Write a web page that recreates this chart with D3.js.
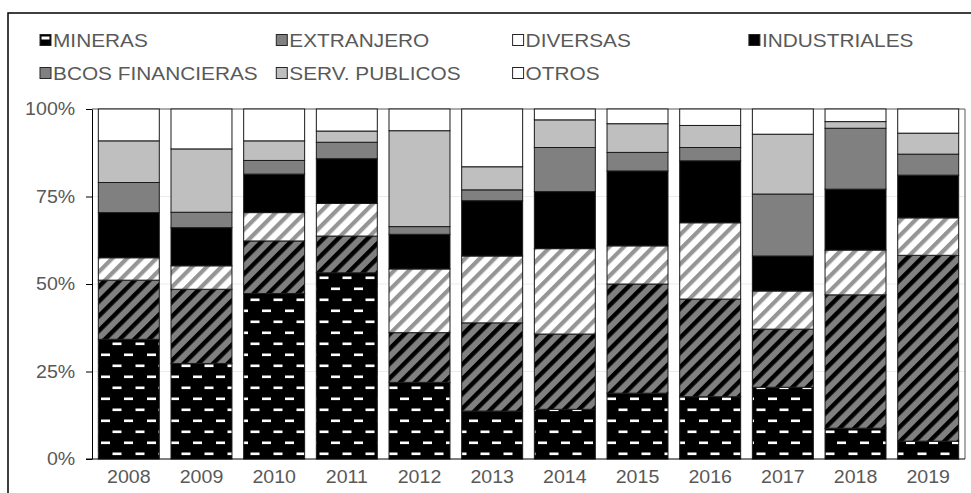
<!DOCTYPE html>
<html>
  <head>
    <meta charset="utf-8">
    <title>Composicion por sector</title>
    <script src="https://cdn.jsdelivr.net/npm/d3@7"></script>
    <style>
     body { margin: 0; background: #fff; }
     text { font-family: "Liberation Sans", Arial, sans-serif; fill: #595959; }
    </style>
  </head>
  <body>
    <svg id="chart"></svg>
    <script>
     // values, % of each year
     var years = ["2008","2009","2010","2011","2012","2013","2014","2015","2016","2017","2018","2019"];
     var mineras      = [34.2, 27.3, 47.3, 53.2, 21.9, 13.7, 14.2, 18.8, 17.8, 20.5,  8.8,  5.1];
     var extranjero   = [16.9, 21.2, 15.0, 10.5, 14.2, 25.2, 21.5, 31.2, 27.9, 16.6, 38.1, 53.1];
     var diversas     = [ 6.4,  6.7,  8.1,  9.3, 18.2, 19.1, 24.4, 10.9, 21.8, 10.9, 12.8, 10.7];
     var industriales = [12.9, 10.9, 11.0, 12.8,  9.9, 15.8, 16.3, 21.4, 17.7, 10.0, 17.4, 12.2];
     var bcos         = [ 8.6,  4.4,  3.9,  4.7,  2.2,  3.1, 12.6,  5.3,  3.8, 17.7, 17.4,  6.0];
     var serv         = [11.9, 18.1,  5.6,  3.2, 27.4,  6.6,  7.9,  8.2,  6.3, 17.1,  1.9,  6.0];
     var otros        = [ 9.1, 11.4,  9.1,  6.3,  6.2, 16.5,  3.1,  4.2,  4.7,  7.2,  3.6,  6.9];
     var seriesNames = ["MINERAS","EXTRANJERO","DIVERSAS","INDUSTRIALES","BCOS FINANCIERAS","SERV. PUBLICOS","OTROS"];
     var yTicks = [0, 0.25, 0.5, 0.75, 1];

     var seriesValues = [mineras, extranjero, diversas, industriales, bcos, serv, otros];
     var fills = ["url(#pMin)", "url(#pExt)", "url(#pDiv)", "#000000", "#808080", "#bfbfbf", "#ffffff"];
     var legendFills = ["url(#lMin)", "#808080", "#ffffff", "#000000", "#808080", "#bfbfbf", "#ffffff"];
     var stretch = "scale(1.12,1)";   // the picture is a little wider than tall

     var W = 971, H = 493;
     var plot = {left: 92, right: 965, top: 109, bottom: 459};

     var rows = years.map(function(y, i) {
	 var r = {year: y};
	 seriesNames.forEach(function(n, k) { r[n] = seriesValues[k][i]; });
	 return r;
     });
     var stacked = d3.stack().keys(seriesNames).offset(d3.stackOffsetExpand)(rows);

     var xScale = d3.scaleBand()
		    .domain(years)
		    .range([plot.left, plot.right])
		    .paddingInner(0.161)
		    .paddingOuter(0.087);
     var yScale = d3.scaleLinear()
		    .domain([0, 1])
		    .range([plot.bottom, plot.top]);

     var svg = d3.select("#chart").attr("width", W).attr("height", H);
     var defs = svg.append("defs");

     // black with white dashes
     var pm = defs.append("pattern").attr("id", "pMin").attr("patternUnits", "userSpaceOnUse")
		  .attr("x", 98).attr("y", 459).attr("width", 23).attr("height", 22);
     pm.append("rect").attr("width", 23).attr("height", 22).attr("fill", "#000");
     pm.append("rect").attr("x", 3).attr("y", 4.5).attr("width", 9).attr("height", 2.6).attr("fill", "#fff");
     pm.append("rect").attr("x", 14.5).attr("y", 15.5).attr("width", 9).attr("height", 2.6).attr("fill", "#fff");
     pm.append("rect").attr("x", -8.5).attr("y", 15.5).attr("width", 9).attr("height", 2.6).attr("fill", "#fff");

     // gray with black diagonals
     var pe = defs.append("pattern").attr("id", "pExt").attr("patternUnits", "userSpaceOnUse")
		  .attr("width", 10.4).attr("height", 10).attr("patternTransform", "rotate(45)");
     pe.append("rect").attr("width", 10.4).attr("height", 10).attr("fill", "#808080");
     pe.append("rect").attr("width", 4.4).attr("height", 10).attr("fill", "#000");

     // white with gray diagonals
     var pd = defs.append("pattern").attr("id", "pDiv").attr("patternUnits", "userSpaceOnUse")
		  .attr("width", 10.4).attr("height", 10).attr("patternTransform", "rotate(45)");
     pd.append("rect").attr("width", 10.4).attr("height", 10).attr("fill", "#ffffff");
     pd.append("rect").attr("width", 4.2).attr("height", 10).attr("fill", "#959595");

     // legend swatch for mineras
     var lm = defs.append("pattern").attr("id", "lMin").attr("patternUnits", "objectBoundingBox")
		  .attr("width", 1).attr("height", 1);
     lm.append("rect").attr("width", 11).attr("height", 11).attr("fill", "#000");
     lm.append("rect").attr("x", 1.5).attr("y", 2).attr("width", 8).attr("height", 3).attr("fill", "#fff");

     // outer chart border
     svg.append("rect").attr("x", 8).attr("y", 13).attr("width", W).attr("height", H)
	.attr("fill", "none").attr("stroke", "#000").attr("stroke-width", 1.5);

     // gridlines
     svg.append("g").selectAll("line").data(yTicks.slice(1, 4)).enter().append("line")
	.attr("x1", plot.left).attr("x2", plot.right)
	.attr("y1", function(d) { return yScale(d); }).attr("y2", function(d) { return yScale(d); })
	.attr("stroke", "#ebebeb").attr("stroke-width", 1);

     // frame top / right
     svg.append("path")
	.attr("d", "M" + plot.left + "," + yScale(1) + "H" + plot.right + "V" + plot.bottom)
	.attr("fill", "none").attr("stroke", "#595959").attr("stroke-width", 1);

     // bars
     var layers = svg.append("g").selectAll("g").data(stacked).enter().append("g")
		     .attr("fill", function(d, i) { return fills[i]; });
     layers.selectAll("rect").data(function(d) { return d; }).enter().append("rect")
	   .attr("x", function(d) { return xScale(d.data.year); })
	   .attr("width", xScale.bandwidth())
	   .attr("y", function(d) { return yScale(d[1]); })
	   .attr("height", function(d) { return yScale(d[0]) - yScale(d[1]); })
	   .attr("stroke", "#1a1a1a").attr("stroke-width", 1);

     // axes
     var yAxis = svg.append("g")
		    .attr("transform", "translate(" + plot.left + ",0)")
		    .call(d3.axisLeft(yScale).tickValues(yTicks).tickFormat(d3.format(".0%"))
			    .tickSize(6).tickSizeOuter(0).tickPadding(9));
     yAxis.select(".domain").attr("stroke", "#000");
     yAxis.selectAll("line").attr("stroke", "#000");
     yAxis.selectAll("text").attr("transform", stretch)
	  .style("font-size", "17.5px").attr("fill", "#595959");

     var xAxis = svg.append("g")
		    .attr("transform", "translate(0," + plot.bottom + ")")
		    .call(d3.axisBottom(xScale).tickSize(0).tickSizeOuter(0).tickPadding(12));
     xAxis.select(".domain").attr("stroke", "#000").attr("d", "M" + (plot.left - 6) + ",0H" + plot.right);
     xAxis.selectAll("text").attr("transform", stretch)
	  .style("font-size", "17.5px").attr("fill", "#595959");

     // legend
     var legend = svg.append("g").selectAll("g").data(seriesNames).enter().append("g")
		     .attr("transform", function(d, i) {
			 return "translate(" + (40 + (i % 4) * 236.3) + "," + (i < 4 ? 40 : 73) + ")";
		     });
     legend.append("rect")
	   .attr("x", 0).attr("y", -5.5).attr("width", 11).attr("height", 11)
	   .attr("fill", function(d, i) { return legendFills[i]; })
	   .attr("stroke", "#262626").attr("stroke-width", 1);
     legend.append("text")
	   .attr("transform", "translate(13,7) " + stretch)
	   .style("font-size", "18.6px")
	   .text(function(d) { return d; });
    </script>
  </body>
</html>
